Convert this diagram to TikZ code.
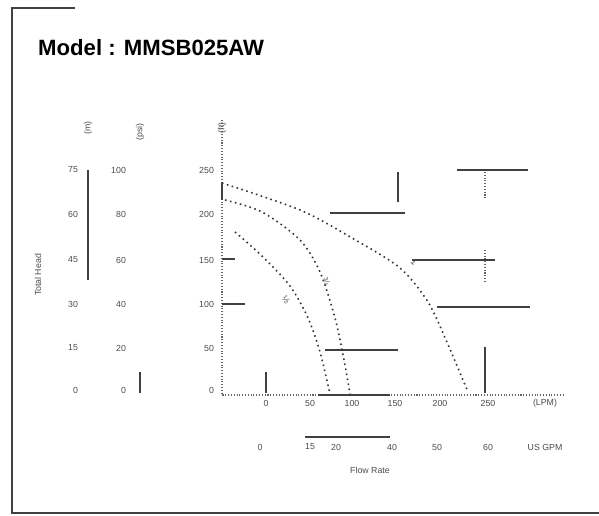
\documentclass[tikz,border=0pt]{standalone}
\usepackage{fontspec}
\setmainfont{Liberation Sans}
\usepackage{tikz}
\usetikzlibrary{positioning,calc}

\tikzset{
	seg/.style={line width=1.1pt, black!75},
	grid line/.style={densely dotted, black!60, line width=0.6pt},
	curve/.style={dotted, black!80, line width=0.9pt},
	tick/.style={font=\fontsize{5}{6}\selectfont, text=black!70, inner sep=1pt}
}

\begin{document}
\begin{tikzpicture}[x=0.02cm,y=-0.02cm]
			\begin{scope}
				\useasboundingbox (0,0) rectangle (599,516);
				\coordinate (O) at (222,395);
				\coordinate (top) at (222,120);
				\coordinate (right) at (565,395);
				
				% frame
				\draw[line width=1.2pt, black!75] (75,8) -- (12,8) -- (12,513) -- (599,513);
				
				\node[font=\bfseries\fontsize{12.6}{14}\selectfont, anchor=west] (title) at (32,48) {Model : MMSB025AW};
				
				% axes
				\draw[grid line] (top) -- (O) -- (right);
				\draw[seg] (88,170) -- (88,280);
				\draw[seg] (140,372) -- (140,393);
				\draw[seg] (266,372) -- (266,393);
				\draw[seg] (222,183) -- (222,200);
				\draw[seg] (222,259) -- (235,259);
				\draw[seg] (222,304) -- (245,304);
				
				% head lines
				\draw[seg] (330,213) -- (405,213);
				\draw[seg] (398,172) -- (398,202);
				\draw[seg] (457,170) -- (528,170);
				\draw[grid line] (485,172) -- (485,200);
				\draw[seg] (412,260) -- (495,260);
				\draw[grid line] (485,250) -- (485,282);
				\draw[seg] (437,307) -- (530,307);
				\draw[seg] (325,350) -- (398,350);
				\draw[seg] (318,395) -- (390,395);
				\draw[seg] (485,347) -- (485,393);
				\draw[seg] (305,437) -- (390,437);
				
				% curves
				\draw[curve] plot[smooth] coordinates {(222,183) (300,210) (352,238) (400,268) (428,302) (446,340) (468,392)};
				\draw[curve] plot[smooth] coordinates {(225,200) (262,212) (300,240) (320,272) (335,318) (344,360) (350,394)};
				\draw[curve] plot[smooth] coordinates {(235,232) (262,256) (290,286) (308,318) (320,352) (330,394)};
				\node[tick, rotate=-55] (c1) at (286,300) {½};
				\node[tick, rotate=-65] (c2) at (326,282) {¾};
				\node[tick, rotate=-45] (c3) at (414,262) {1};
				
				% left scales
				\node[tick, rotate=90] (unitm) at (88,128) {(m)};
				\node[tick, rotate=90] (unitp) at (140,132) {(psi)};
				\node[tick, rotate=90] (unitf) at (222,128) {(ft)};
				\node[tick, rotate=90] (head) at (38,275) {Total Head};
				\foreach \y/\m/\p/\f in {170/75/100/250, 214/60/80/200, 260/45/60/150, 304/30/40/100, 348/15/20/50, 390/0/0/0}{
					\node[tick, anchor=east] (m\m) at (80,\y) {\m};
					\node[tick, anchor=east] (p\p) at (128,\y) {\p};
					\node[tick, anchor=east] (f\f) at (216,\y) {\f};
				}
				
				% flow scales
				\foreach \x/\l in {266/0, 310/50, 352/100, 395/150, 440/200, 488/250}{
					\node[tick] (q\l) at (\x,403) {\l};
				}
				\node[tick] (lpm) at (545,403) {(LPM)};
				\foreach \x/\g in {260/0, 310/15, 336/20, 392/40, 437/50, 488/60}{
					\node[tick] (g\g) at (\x,447) {\g};
				}
				\node[tick] (gpm) at (545,447) {US GPM};
				\node[tick] (flow) at (370,470) {Flow Rate};
			\end{scope}
		\end{tikzpicture}
\end{document}
